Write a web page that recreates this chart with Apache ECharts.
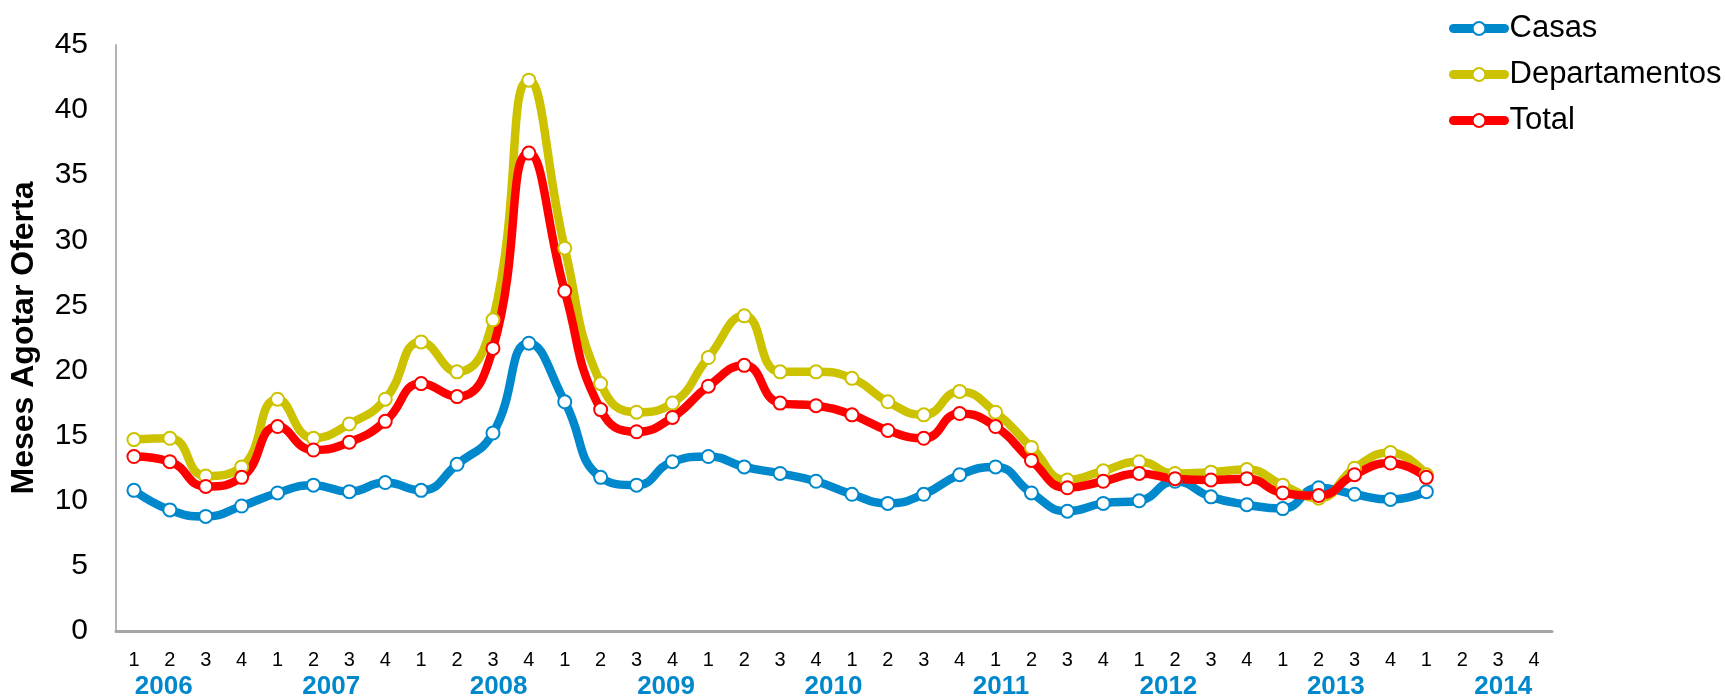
<!DOCTYPE html>
<html>
<head>
<meta charset="utf-8">
<script src="https://cdn.jsdelivr.net/npm/echarts@6/dist/echarts.min.js"></script>
<style>
html,body{margin:0;padding:0;background:#fff;}
#chart{width:1725px;height:700px;}
</style>
</head>
<body>
<div id="chart"></div>
<script>
var quarterTicks = ['1','2','3','4','1','2','3','4','1','2','3','4','1','2','3','4','1','2','3','4',
                    '1','2','3','4','1','2','3','4','1','2','3','4','1','2','3','4','1','2','3','4'];
var yearLabels = ['2006','2007','2008','2009','2010','2011','2012','2013','2014'];
var seriesNames = ['Casas','Departamentos','Total'];
var casas = [10.8, 9.3, 8.8, 9.6, 10.6, 11.2, 10.7, 11.4, 10.8, 12.8, 15.2, 22.1, 17.6, 11.8, 11.2, 13.0,
             13.4, 12.6, 12.1, 11.5, 10.5, 9.8, 10.5, 12.0, 12.6, 10.6, 9.2, 9.8, 10.0, 11.5, 10.3, 9.7,
             9.4, 11.0, 10.5, 10.1, 10.7];
var departamentos = [14.7, 14.8, 11.9, 12.6, 17.8, 14.8, 15.9, 17.8, 22.2, 19.9, 23.9, 42.3, 29.4, 19.0, 16.8, 17.5,
             21.0, 24.2, 19.9, 19.9, 19.4, 17.6, 16.6, 18.4, 16.8, 14.1, 11.6, 12.3, 13.0, 12.1, 12.2, 12.4,
             11.2, 10.2, 12.5, 13.7, 12.0];
var total = [13.4, 13.0, 11.1, 11.8, 15.7, 13.9, 14.5, 16.1, 19.0, 18.0, 21.7, 36.7, 26.1, 17.0, 15.3, 16.4,
             18.8, 20.4, 17.5, 17.3, 16.6, 15.4, 14.8, 16.7, 15.7, 13.1, 11.0, 11.5, 12.1, 11.7, 11.6, 11.7,
             10.6, 10.4, 12.0, 12.9, 11.8];
var colors = ['#0088CC', '#CCC200', '#FF0000'];

function mkSeries(name, data, color) {
  return {
    name: name, type: 'line', data: data, xAxisIndex: 0, yAxisIndex: 0,
    smooth: 0.5, symbol: 'circle', symbolSize: 13,
    lineStyle: { color: color, width: 8.5, cap: 'round', join: 'round' },
    itemStyle: { color: '#ffffff', borderColor: color, borderWidth: 2 },
    emphasis: { disabled: true },
    animation: false
  };
}

var chart = echarts.init(document.getElementById('chart'), null, { renderer: 'canvas' });
chart.setOption({
  backgroundColor: '#ffffff',
  animation: false,
  textStyle: { fontFamily: 'Liberation Sans, Arial, sans-serif' },
  color: colors,
  legend: {
    orient: 'vertical', left: 1444, top: 8,
    itemWidth: 51, itemHeight: 16, itemGap: 15,
    data: seriesNames,
    textStyle: { fontSize: 31, color: '#000', lineHeight: 31, fontFamily: 'Liberation Sans, Arial, sans-serif' },
    lineStyle: { width: 9, cap: 'round' },
    itemStyle: { borderWidth: 2 }
  },
  grid: [
    { left: 115, right: 173, top: 45, bottom: 69, containLabel: false },
    { left: 80, right: 138, top: 45, bottom: 69, containLabel: false }
  ],
  xAxis: [
    {
      type: 'category', gridIndex: 0, data: quarterTicks, boundaryGap: true,
      axisLine: { lineStyle: { color: '#A6A6A6', width: 3 } },
      axisTick: { show: false },
      axisLabel: { interval: 0, margin: 19, fontSize: 20, color: '#000' },
      splitLine: { show: false }
    },
    {
      type: 'category', gridIndex: 1, data: yearLabels, boundaryGap: true,
      axisLine: { show: false }, axisTick: { show: false },
      axisLabel: { interval: 0, margin: 48, fontSize: 26, fontWeight: 'bold', color: '#0088CC' },
      splitLine: { show: false }
    }
  ],
  yAxis: [
    {
      type: 'value', gridIndex: 0, min: 0, max: 45, interval: 5,
      name: 'Meses Agotar Oferta', nameLocation: 'middle', nameGap: 76,
      nameTextStyle: { fontSize: 32, fontWeight: 'bold', color: '#000' },
      axisLine: { show: true, lineStyle: { color: '#B3B3B3', width: 2 } },
      axisTick: { show: false },
      axisLabel: { fontSize: 30, color: '#000', margin: 28 },
      splitLine: { show: false }
    },
    { type: 'value', gridIndex: 1, show: false, min: 0, max: 45 }
  ],
  series: [
    mkSeries(seriesNames[0], casas, colors[0]),
    mkSeries(seriesNames[1], departamentos, colors[1]),
    mkSeries(seriesNames[2], total, colors[2])
  ]
});
</script>
</body>
</html>
